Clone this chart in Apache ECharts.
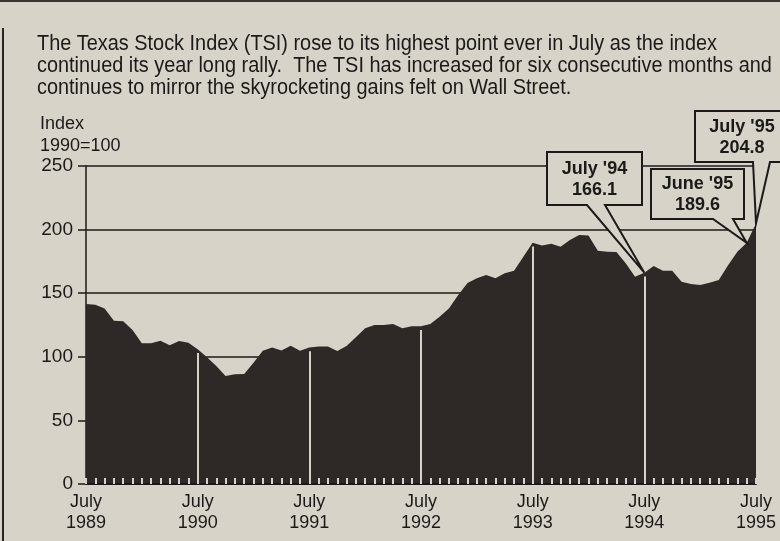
<!DOCTYPE html>
<html><head><meta charset="utf-8">
<script src="https://cdn.jsdelivr.net/npm/echarts@6/dist/echarts.min.js"></script>
<style>html,body{margin:0;padding:0;background:#d6d2c6}#c{width:780px;height:541px}</style>
</head><body><div id="c"></div>
<script>
// ---- data ----
const startYear = 1989;
const startMonth = 6; // July (0-based)
const monthNames = ['Jan','Feb','Mar','Apr','May','Jun','Jul','Aug','Sep','Oct','Nov','Dec'];
const values = [
  141.5, 141.0, 138.0, 128.4, 128.0, 121.0, 110.6, 110.6, 112.7, 109.0, 112.5, 111.0,
  106.0, 99.6, 92.8, 85.0, 86.2, 86.5, 95.4, 104.8, 107.4, 105.0, 108.7, 104.8,
  107.4, 108.0, 108.0, 104.5, 108.5, 115.3, 122.4, 125.0, 125.0, 125.8, 122.4, 124.0,
  124.0, 125.8, 131.5, 138.0, 148.6, 158.0, 161.7, 164.3, 161.7, 165.6, 167.7, 178.7,
  189.7, 187.5, 188.8, 186.5, 191.8, 195.7, 195.4, 183.4, 182.6, 182.3, 173.5, 163.0,
  166.1, 171.4, 167.7, 167.7, 159.0, 157.2, 156.4, 158.2, 160.3, 172.0, 182.6, 189.6,
  204.8
];
const yearLabels = ['1989','1990','1991','1992','1993','1994','1995'];
const yTicks = [0, 50, 100, 150, 200, 250];
const callouts = [
  { index: 60, title: "July '94" },
  { index: 71, title: "June '95" },
  { index: 72, title: "July '95" }
];
const titleLines = [
  'The Texas Stock Index (TSI) rose to its highest point ever in July as the index',
  'continued its year long rally.  The TSI has increased for six consecutive months and',
  'continues to mirror the skyrocketing gains felt on Wall Street.'
];
const axisTitle = 'Index\n1990=100';

// ---- build ----
const categories = values.map((v, i) => {
  const m = (startMonth + i) % 12;
  const y = startYear + Math.floor((startMonth + i) / 12);
  return monthNames[m] + ' ' + y;
});
const yearIdx = [];
categories.forEach((c, i) => { if (c.startsWith('Jul')) yearIdx.push(i); });

const BG = '#d7d3c8', INK = '#1c1a18', AREA = '#2e2926';
const FN = "'Liberation Sans', Arial, sans-serif";

const chart = echarts.init(document.getElementById('c'), null, {renderer: 'canvas'});
const option = {
  backgroundColor: BG,
  animation: false,
  grid: { left: 86, right: 24, top: 166, bottom: 57 },
  xAxis: {
    type: 'category', data: categories, boundaryGap: false, z: 5,
    axisLine: { lineStyle: { color: INK, width: 2 } },
    axisTick: { show: true, inside: true, length: 6, interval: 0, lineStyle: { color: BG, width: 2 } },
    axisLabel: {
      interval: (i) => yearIdx.indexOf(i) >= 0,
      formatter: (v, i) => 'July\n' + yearLabels[yearIdx.indexOf(i)],
      fontFamily: FN, fontSize: 18, lineHeight: 21, color: INK, margin: 8
    },
    splitLine: { show: false }
  },
  yAxis: {
    type: 'value', min: yTicks[0], max: yTicks[yTicks.length - 1], interval: 50,
    axisLine: { show: true, lineStyle: { color: INK, width: 1.5 } },
    axisTick: { show: true, length: 8, lineStyle: { color: INK, width: 1.5 } },
    axisLabel: { fontFamily: FN, fontSize: 19, color: INK, margin: 13 },
    splitLine: { show: true, lineStyle: { color: INK, width: 1.5 } }
  },
  series: [{
    type: 'line', data: values, symbol: 'none', z: 2,
    lineStyle: { width: 0 },
    areaStyle: { color: AREA, opacity: 1 },
    markLine: {
      silent: true, symbol: 'none', z: 4, animation: false,
      label: { show: false },
      lineStyle: { color: BG, width: 2, type: 'solid' },
      data: yearIdx.filter(i => i > 0 && i < values.length - 1).map(i => [
        { coord: [categories[i], 0] },
        { coord: [categories[i], values[i] - 3] }
      ])
    }
  }]
};
chart.setOption(option);

// ---- annotations ----
const boxes = [
  { x0: 547, x1: 642, y0: 152, y1: 205, b0: 587, b1: 605 },
  { x0: 651, x1: 744, y0: 169, y1: 219, b0: 713, b1: 733 },
  { x0: 695, x1: 800, y0: 111, y1: 162, b0: 753, b1: 770 }
];
const titleFont = '22px ' + FN;
const ctx = document.createElement('canvas').getContext('2d');
ctx.font = titleFont;
const sx = 680 / ctx.measureText(titleLines[0]).width;

const g = [];
g.push({ type: 'rect', shape: { x: 0, y: 0, width: 780, height: 2 }, style: { fill: '#3a3430' }, z: 100 });
g.push({ type: 'rect', shape: { x: 2, y: 28, width: 2, height: 513 }, style: { fill: '#2a2522' }, z: 100 });
g.push({ type: 'text', x: 37, y: 33, scaleX: sx, z: 100,
  style: { text: titleLines.join('\n'), font: titleFont, fill: INK, lineHeight: 22 } });
g.push({ type: 'text', x: 40, y: 113, z: 100, style: { text: axisTitle, font: '18px ' + FN, fill: INK, lineHeight: 22 } });
[2, 0, 1].forEach(k => {
  const c = callouts[k], b = boxes[k];
  const tip = chart.convertToPixel({ xAxisIndex: 0, yAxisIndex: 0 }, [categories[c.index], values[c.index]]);
  g.push({
    type: 'polygon', z: 110,
    shape: { points: [[b.x0, b.y0], [b.x1, b.y0], [b.x1, b.y1], [b.b1, b.y1], tip, [b.b0, b.y1], [b.x0, b.y1]] },
    style: { fill: BG, stroke: INK, lineWidth: 2 }
  });
  const cx = k === 2 ? 742 : (b.x0 + b.x1) / 2;
  g.push({
    type: 'text', z: 111, x: cx, y: (b.y0 + b.y1) / 2 + 1,
    style: { text: c.title + '\n' + values[c.index].toFixed(1), font: 'bold 18px ' + FN, fill: INK,
      align: 'center', verticalAlign: 'middle', lineHeight: 21 }
  });
});
chart.setOption({ graphic: g });
</script></body></html>
